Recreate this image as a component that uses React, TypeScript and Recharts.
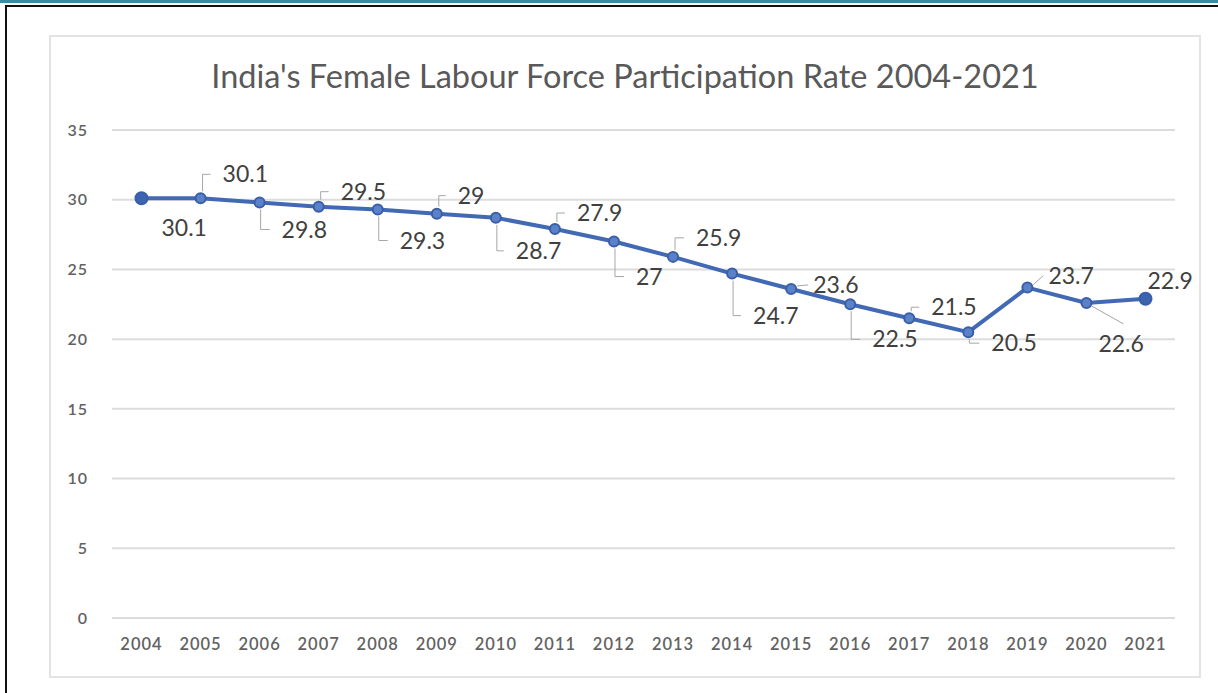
import { CartesianGrid, Line, LineChart, XAxis, YAxis } from "recharts";

// India's female labour force participation rate, 2004-2021 (%)
const years = [
  "2004", "2005", "2006", "2007", "2008", "2009", "2010", "2011", "2012",
  "2013", "2014", "2015", "2016", "2017", "2018", "2019", "2020", "2021",
];
const rates = [
  30.1, 30.1, 29.8, 29.5, 29.3, 29, 28.7, 27.9, 27,
  25.9, 24.7, 23.6, 22.5, 21.5, 20.5, 23.7, 22.6, 22.9,
];
const yTicks = [0, 5, 10, 15, 20, 25, 30, 35];

const data = years.map((year, i) => ({ year, rate: rates[i] }));

// label placement relative to its point: text start x, text middle y, leader style
const labelPlace: [number, number, string][] = [
  [20, 30, "none"], [22, -24, "up"], [22, 27, "down"], [22, -15, "up"],
  [22, 31, "down"], [21, -18, "up"], [20, 33, "down"], [22, -16, "up"],
  [22, 35, "down"], [23, -19, "up"], [21, 42, "down"], [22, -4, "side"],
  [22, 35, "down"], [22, -11, "up"], [23, 11, "down"], [21, -12, "side"],
  [12, 41, "diag"], [2, -18, "none"],
];

const LINE = "#4169b4";
const TEXT = "#404040";
const AXIS_TEXT = "#595959";
const LEADER = "#a6a6a6";
const FONT = "Lato, 'Open Sans', sans-serif";

function PointLabel(props: any) {
  const { x, y, index, value } = props;
  const [sx, dy, kind] = labelPlace[index];
  const ty = y + dy;
  const tx = x + sx;
  let leader = null;
  if (kind === "up") {
    leader = <polyline points={`${x + 2},${y - 7} ${x + 2},${ty} ${tx - 12},${ty}`} fill="none" stroke={LEADER} strokeWidth={1} />;
  } else if (kind === "down") {
    leader = <polyline points={`${x + 1},${y + 7} ${x + 1},${ty} ${tx - 12},${ty}`} fill="none" stroke={LEADER} strokeWidth={1} />;
  } else if (kind === "side") {
    leader = <line x1={x + 6} y1={y - 3} x2={tx - 5} y2={ty} stroke={LEADER} strokeWidth={1} />;
  } else if (kind === "diag") {
    leader = <line x1={x + 5} y1={y + 3} x2={x + 37} y2={y + 21} stroke={LEADER} strokeWidth={1} />;
  }
  return (
    <g>
      {leader}
      <text x={tx} y={ty} dy="0.35em" textAnchor="start" fill={TEXT} fontSize={23} fontFamily={FONT}>
        {value}
      </text>
    </g>
  );
}

function Marker(props: any) {
  const { cx, cy, index } = props;
  const last = index === years.length - 1 || index === 0;
  return (
    <circle
      key={index}
      cx={cx}
      cy={cy}
      r={last ? 6 : 5}
      fill={last ? "#3c64b0" : "#5b82c8"}
      stroke="#3a5fa8"
      strokeWidth={2}
    />
  );
}

export default function App() {
  return (
    <div style={{ position: "absolute", left: 0, top: 0, width: 1218, height: 693, background: "#fff", overflow: "hidden" }}>
      <div style={{ position: "absolute", left: 0, top: 0, width: 1218, height: 3, background: "#3f8aa6" }} />
      <div
        style={{
          position: "absolute",
          left: 5,
          top: 5,
          width: 1230,
          height: 720,
          borderTop: "2px solid #111",
          borderLeft: "2px solid #111",
        }}
      />
      <div
        style={{
          position: "absolute",
          left: 49,
          top: 35,
          width: 1148,
          height: 639,
          border: "2px solid #e3e3e3",
        }}
      />
      <div
        style={{
          position: "absolute",
          left: 0,
          top: 56,
          width: 1250,
          textAlign: "center",
          fontFamily: FONT,
          fontSize: 32.5,
          color: AXIS_TEXT,
        }}
      >
        India's Female Labour Force Participation Rate 2004-2021
      </div>
      <div style={{ position: "absolute", left: 0, top: 0 }}>
        <LineChart width={1218} height={693} data={data} margin={{ top: 130, right: 43, bottom: 45, left: 52 }}>
          <CartesianGrid vertical={false} stroke="#dcdcdc" strokeWidth={2} />
          <XAxis
            dataKey="year"
            axisLine={false}
            tickLine={false}
            height={30}
            interval={0}
            padding={{ left: 29.5, right: 29.5 }}
            tick={{ fill: "#626262", fontSize: 16.5, fontWeight: 600, fontFamily: FONT, letterSpacing: 1 }}
            tickMargin={14}
          />
          <YAxis
            domain={[0, 35]}
            ticks={yTicks}
            width={60}
            axisLine={false}
            tickLine={false}
            tick={{ fill: "#626262", fontSize: 16, fontWeight: 600, fontFamily: FONT, letterSpacing: 1 }}
            tickMargin={18}
          />
          <Line
            dataKey="rate"
            type="linear"
            stroke={LINE}
            strokeWidth={4}
            dot={<Marker />}
            label={<PointLabel />}
            isAnimationActive={false}
          />
        </LineChart>
      </div>
    </div>
  );
}
